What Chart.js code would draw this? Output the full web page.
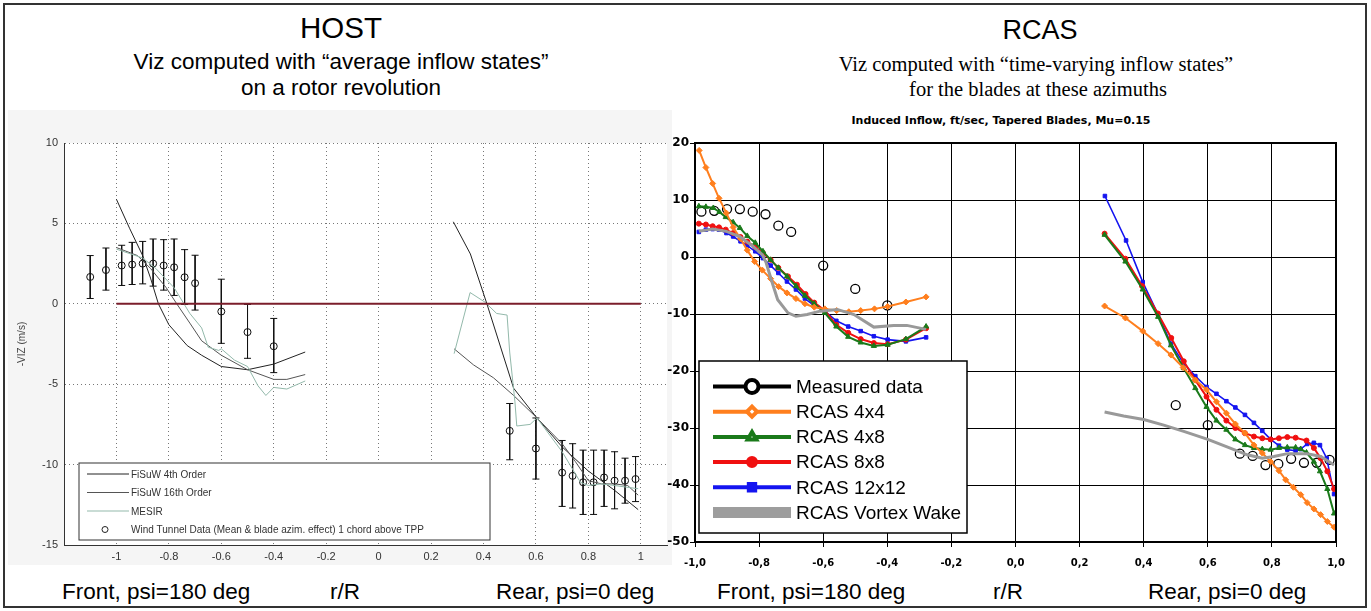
<!DOCTYPE html>
<html>
<head>
<meta charset="utf-8">
<script src="https://cdn.jsdelivr.net/npm/chart.js@4.4.0/dist/chart.umd.min.js"></script>
<style>
body { margin:0; width:1371px; height:611px; background:#fff; position:relative; overflow:hidden; font-family:"Liberation Sans", Arial, sans-serif; color:#000; }
#frame { position:absolute; left:3px; top:3px; width:1364px; height:605px; box-sizing:border-box; border:2px solid #333; }
.c { position:absolute; white-space:nowrap; transform:translateX(-50%); line-height:1; }
.l { position:absolute; white-space:nowrap; line-height:1; font-size:22.5px; top:581px; }
.serif { font-family:"Liberation Serif", "Times New Roman", serif; }
#host { position:absolute; left:8px; top:110px; }
#rcas { position:absolute; left:648px; top:133px; }
</style>
</head>
<body>
<div id="frame"></div>

<div class="c" style="left:341px; top:13px; font-size:29.5px;">HOST</div>
<div class="c" style="left:341px; top:51px; font-size:22.5px;">Viz computed with “average inflow states”</div>
<div class="c" style="left:341px; top:77px; font-size:22.5px;">on a rotor revolution</div>
<div class="c" style="left:378px; top:117px; font-size:19px; color:#444;">Tapered Blades – Mu=0.15 – Longitudinal Distribution</div>

<div class="c" style="left:1040px; top:17px; font-size:27px;">RCAS</div>
<div class="c serif" style="left:1036px; top:54px; font-size:20.5px;">Viz computed with “time-varying inflow states”</div>
<div class="c serif" style="left:1038px; top:79px; font-size:20.5px;">for the blades at these azimuths</div>
<div class="c" style="left:1001px; top:115px; font-size:11px; font-weight:bold; font-family:'DejaVu Sans', Verdana, sans-serif;">Induced Inflow, ft/sec, Tapered Blades, Mu=0.15</div>

<canvas id="host" width="664" height="455"></canvas>
<canvas id="rcas" width="702" height="435"></canvas>

<div class="l" style="left:62px;">Front, psi=180 deg</div>
<div class="l" style="left:330px;">r/R</div>
<div class="l" style="left:496px;">Rear, psi=0 deg</div>
<div class="l" style="left:717px;">Front, psi=180 deg</div>
<div class="l" style="left:993px;">r/R</div>
<div class="l" style="left:1148px;">Rear, psi=0 deg</div>

<script>
// ---------- HOST (left) ----------
var hostXTicks = [-1, -0.8, -0.6, -0.4, -0.2, 0, 0.2, 0.4, 0.6, 0.8, 1];

// wind tunnel data, mean and error bar ends
var hostMeasX = [-1.10, -1.04, -0.98, -0.94, -0.90, -0.86, -0.82, -0.78, -0.74, -0.70, -0.60, -0.50, -0.40,
                 0.50, 0.60, 0.70, 0.74, 0.78, 0.82, 0.86, 0.90, 0.94, 0.98];
var hostMeasY = [1.67, 2.1, 2.38, 2.44, 2.5, 2.5, 2.38, 2.27, 1.65, 1.28, -0.48, -1.76, -2.64,
                 -7.9, -9.0, -10.5, -10.7, -11.1, -11.1, -10.8, -11.0, -11.0, -10.9];
var hostErrHi = [3.0, 3.47, 3.64, 3.82, 3.88, 4.03, 3.99, 4.03, 3.37, 3.02, 1.53, -0.04, -0.91,
                 -6.2, -7.1, -8.5, -8.7, -9.1, -9.1, -9.1, -9.2, -9.6, -9.5];
var hostErrLo = [0.33, 0.85, 1.14, 1.2, 1.24, 1.1, 0.85, 0.52, -0.04, -0.39, -2.46, -3.39, -4.28,
                 -9.7, -10.9, -12.6, -12.7, -13.1, -13.1, -12.6, -12.75, -12.4, -12.3];

var fisuw4Front = [[-1, 6.5], [-0.95, 4.7], [-0.9, 3.0], [-0.87, 1.6], [-0.84, 0], [-0.8, -1.3], [-0.73, -2.6],
                   [-0.675, -3.2], [-0.6, -3.9], [-0.5, -4.1], [-0.4, -3.75], [-0.28, -3.0]];
var fisuw4Rear = [[0.285, 5.1], [0.35, 3.1], [0.413, 0], [0.515, -5.25], [0.604, -7.1], [0.7, -8.9],
                  [0.8, -10.4], [0.9, -11.6], [0.99, -12.8]];
var fisuw16Front = [[-1, 3.5], [-0.92, 3.0], [-0.87, 2.2], [-0.81, 1.0], [-0.77, 0], [-0.72, -1.2], [-0.675, -2.3],
                    [-0.6, -3.2], [-0.5, -4.1], [-0.4, -4.7], [-0.35, -4.7], [-0.28, -4.4]];
var fisuw16Rear = [[0.288, -2.8], [0.362, -3.8], [0.438, -4.6], [0.515, -5.7], [0.604, -7.1], [0.7, -8.7],
                   [0.75, -9.8], [0.8, -11.0], [0.85, -11.2], [0.9, -11.2], [0.95, -11.3], [0.99, -11.9]];
var mesirFront = [[-1, 3.4], [-0.9, 2.85], [-0.85, 2.2], [-0.78, 1.0], [-0.72, -0.6], [-0.675, -1.5], [-0.65, -2.7],
                  [-0.61, -2.9], [-0.6, -2.8], [-0.55, -3.5], [-0.5, -3.9], [-0.46, -5.1], [-0.43, -5.7],
                  [-0.4, -5.2], [-0.35, -5.3], [-0.28, -4.8]];
var mesirRear = [[0.288, -3.1], [0.349, 0.7], [0.406, 0.1], [0.45, -0.6], [0.49, -0.7], [0.5, -3.0], [0.52, -6.1],
                 [0.527, -7.6], [0.578, -7.5], [0.604, -7.1], [0.7, -9.2], [0.77, -11.1], [0.8, -11.3],
                 [0.85, -11.2], [0.9, -11.3], [0.99, -11.5]];

// ---------- RCAS (right) ----------
var rcasMeasX = [-0.98, -0.94, -0.90, -0.86, -0.82, -0.78, -0.74, -0.70, -0.60, -0.50, -0.40,
                 0.50, 0.60, 0.70, 0.74, 0.78, 0.82, 0.86, 0.90, 0.94, 0.98];
var rcasMeasY = [7.95, 8.1, 8.4, 8.4, 7.95, 7.5, 5.5, 4.4, -1.5, -5.6, -8.5,
                 -26.0, -29.5, -34.5, -34.9, -36.5, -36.3, -35.4, -36.1, -36.1, -35.6];

var rcas4x4Front = [[-0.987, 18.7], [-0.966, 15.7], [-0.945, 12.9], [-0.925, 10.3], [-0.902, 7.7], [-0.881, 5.2],
                    [-0.858, 3.2], [-0.837, 1.2], [-0.814, -0.8], [-0.79, -2.3], [-0.764, -3.8], [-0.739, -5.2],
                    [-0.713, -6.3], [-0.685, -7.3], [-0.657, -8.2], [-0.628, -8.8], [-0.595, -9.1], [-0.558, -9.4],
                    [-0.52, -9.6], [-0.483, -9.4], [-0.44, -9.1], [-0.399, -8.7], [-0.342, -7.9], [-0.279, -7.0]];
var rcas4x4Rear = [[0.278, -8.6], [0.343, -10.7], [0.397, -13.0], [0.445, -15.2], [0.485, -17.2], [0.523, -19.4],
                   [0.561, -21.6], [0.596, -23.3], [0.627, -25.4], [0.658, -27.4], [0.686, -29.3], [0.716, -30.9],
                   [0.744, -33.0], [0.77, -34.4], [0.796, -35.9], [0.822, -37.5], [0.843, -39.1], [0.867, -40.4],
                   [0.89, -41.7], [0.91, -43.1], [0.931, -44.2], [0.952, -45.2], [0.973, -46.4], [0.994, -47.4]];
var rcas4x8Front = [[-0.988, 8.9], [-0.966, 8.8], [-0.943, 8.6], [-0.924, 7.9], [-0.904, 7.0], [-0.881, 6.1],
                    [-0.86, 5.1], [-0.837, 3.7], [-0.812, 2.5], [-0.788, 1.0], [-0.764, -0.5], [-0.74, -1.9],
                    [-0.713, -3.4], [-0.685, -5.1], [-0.657, -6.8], [-0.628, -8.2], [-0.595, -9.8], [-0.559, -12.2],
                    [-0.522, -14.0], [-0.483, -15.0], [-0.442, -15.6], [-0.399, -15.4], [-0.342, -14.4], [-0.279, -12.2]];
var rcas4x8Rear = [[0.278, 3.9], [0.343, -0.8], [0.397, -5.7], [0.445, -10.5], [0.485, -15.5], [0.525, -19.5],
                   [0.561, -23.0], [0.596, -26.3], [0.627, -28.7], [0.658, -30.3], [0.686, -32.0], [0.716, -33.0],
                   [0.744, -33.5], [0.77, -33.7], [0.796, -33.8], [0.822, -33.5], [0.848, -33.4], [0.874, -33.4],
                   [0.89, -33.7], [0.908, -34.3], [0.931, -35.9], [0.95, -37.6], [0.973, -40.7], [0.994, -45.0]];
var rcas8x8Front = [[-0.988, 5.85], [-0.966, 5.7], [-0.945, 5.4], [-0.925, 5.2], [-0.904, 4.8], [-0.881, 4.2],
                    [-0.858, 3.5], [-0.837, 2.7], [-0.812, 1.75], [-0.788, 0.7], [-0.764, -0.5], [-0.74, -1.9],
                    [-0.71, -3.4], [-0.682, -4.85], [-0.655, -6.5], [-0.628, -8.0], [-0.595, -9.4], [-0.559, -11.9],
                    [-0.522, -13.3], [-0.483, -14.4], [-0.442, -15.1], [-0.399, -15.3], [-0.342, -14.5], [-0.279, -12.5]];
var rcas8x8Rear = [[0.278, 4.1], [0.343, -0.3], [0.395, -5.1], [0.444, -9.9], [0.486, -14.2], [0.525, -18.3],
                   [0.561, -21.6], [0.596, -24.5], [0.627, -26.8], [0.658, -28.7], [0.686, -30.0], [0.716, -30.9],
                   [0.744, -31.5], [0.77, -31.8], [0.796, -32.0], [0.822, -31.8], [0.848, -31.6], [0.874, -31.7],
                   [0.908, -32.2], [0.931, -33.5], [0.952, -35.3], [0.973, -37.6], [0.994, -40.7]];
var rcas12x12Front = [[-0.988, 4.4], [-0.966, 4.8], [-0.945, 4.9], [-0.925, 4.8], [-0.902, 4.2], [-0.881, 3.6],
                      [-0.858, 2.75], [-0.837, 2.0], [-0.812, 1.0], [-0.788, -0.2], [-0.764, -1.5], [-0.74, -2.8],
                      [-0.713, -4.3], [-0.685, -5.7], [-0.657, -7.3], [-0.628, -8.5], [-0.595, -9.5], [-0.559, -11.2],
                      [-0.522, -12.2], [-0.483, -13.0], [-0.442, -13.9], [-0.399, -14.5], [-0.342, -14.8], [-0.279, -14.1]];
var rcas12x12Rear = [[0.279, 10.7], [0.345, 2.9], [0.397, -4.4], [0.445, -10.1], [0.485, -15.2], [0.525, -18.7],
                     [0.561, -20.9], [0.596, -22.8], [0.627, -24.0], [0.658, -25.3], [0.686, -26.4], [0.716, -27.7],
                     [0.744, -29.1], [0.77, -30.5], [0.796, -32.0], [0.822, -33.1], [0.848, -33.8], [0.874, -34.0],
                     [0.89, -33.7], [0.91, -32.8], [0.931, -32.6], [0.95, -33.0], [0.971, -35.3], [0.994, -41.6]];
var vortexFront = [[-0.988, 4.5], [-0.945, 4.9], [-0.902, 4.5], [-0.86, 3.6], [-0.82, 1.9], [-0.79, 0.4],
                   [-0.778, -1.0], [-0.762, -4.0], [-0.742, -7.5], [-0.71, -9.8], [-0.685, -10.4], [-0.65, -10.1],
                   [-0.61, -9.5], [-0.556, -9.2], [-0.504, -10.1], [-0.442, -12.3], [-0.38, -12.0], [-0.339, -12.0],
                   [-0.279, -12.7]];
var vortexRear = [[0.278, -27.2], [0.3375, -27.9], [0.4, -28.5], [0.4625, -29.5], [0.525, -30.6], [0.6, -32.0],
                  [0.66, -33.3], [0.723, -34.7], [0.77, -35.3], [0.806, -35.0], [0.848, -34.5], [0.91, -34.5],
                  [0.952, -35.0], [0.994, -36.5]];

function pts(arr) {
    return arr.map(function(p) { return {x: p[0], y: p[1]}; });
}
// front and rear halves in one dataset, broken by a null point
function joined(a, b) {
    return pts(a).concat([{x: 0, y: null}], pts(b));
}
function xy(xs, ys) {
    return xs.map(function(x, i) { return {x: x, y: ys[i]}; });
}

var errData = [];
hostMeasX.forEach(function(x, i) {
    errData.push({x: x, y: hostErrHi[i]}, {x: x, y: hostErrLo[i]}, {x: x, y: null});
});

// grey figure background with white axes area
var canvasBg = {
    id: 'canvasBg',
    beforeDraw: function(chart, args, opts) {
        if (!opts.outer) return;
        var ctx = chart.ctx, a = chart.chartArea;
        ctx.save();
        ctx.fillStyle = opts.outer;
        ctx.fillRect(0, 0, chart.width, chart.height);
        ctx.fillStyle = opts.inner;
        ctx.fillRect(a.left, a.top, a.right - a.left, a.bottom - a.top);
        ctx.restore();
    }
};

var frameBox = {
    id: 'frameBox',
    afterDraw: function(chart, args, opts) {
        if (!opts.width) return;
        var ctx = chart.ctx, a = chart.chartArea;
        ctx.save();
        ctx.lineWidth = opts.width;
        ctx.strokeStyle = opts.color;
        ctx.strokeRect(a.left, a.top, a.right - a.left, a.bottom - a.top);
        ctx.restore();
    }
};

// legend box drawn inside the plot area
var boxLegend = {
    id: 'boxLegend',
    afterDraw: function(chart, args, o) {
        if (!o.items) return;
        var ctx = chart.ctx, a = chart.chartArea;
        var x = a.left + o.left, y = a.bottom - o.bottom - o.height;
        ctx.save();
        ctx.fillStyle = o.fill;
        ctx.fillRect(x, y, o.width, o.height);
        ctx.lineWidth = o.borderWidth;
        ctx.strokeStyle = o.borderColor;
        ctx.strokeRect(x, y, o.width, o.height);
        ctx.font = o.font;
        ctx.textBaseline = 'middle';
        o.items.forEach(function(it, i) {
            var cy = y + o.firstRow + i * o.rowHeight;
            if (it.lineWidth) {
                ctx.beginPath();
                ctx.moveTo(x + o.lineFrom, cy);
                ctx.lineTo(x + o.lineTo, cy);
                ctx.lineWidth = it.lineWidth;
                ctx.strokeStyle = it.color;
                ctx.stroke();
            }
            if (it.marker) {
                ctx.fillStyle = it.markerFill;
                ctx.strokeStyle = it.color;
                Chart.helpers.drawPoint(ctx, {pointStyle: it.marker, radius: it.radius, borderWidth: it.markerBorder, rotation: 0},
                    x + o.markerX, cy);
            }
            ctx.fillStyle = o.textColor;
            ctx.fillText(it.text, x + o.textX, cy + 1);
        });
        ctx.restore();
    }
};

var hostTickFont = {family: 'Liberation Sans', size: 11};

new Chart(document.getElementById('host'), {
    type: 'scatter',
    plugins: [canvasBg, boxLegend],
    data: {
        datasets: [{
            label: 'zero',
            data: [{x: -1, y: 0}, {x: 1, y: 0}],
            showLine: true,
            borderColor: '#7b1e2b',
            borderWidth: 2,
            pointRadius: 0
        }, {
            label: 'MESIR',
            data: joined(mesirFront, mesirRear),
            showLine: true,
            borderColor: '#93b9ab',
            borderWidth: 1,
            pointRadius: 0
        }, {
            label: 'FiSuW 16th Order',
            data: joined(fisuw16Front, fisuw16Rear),
            showLine: true,
            borderColor: '#555',
            borderWidth: 1,
            pointRadius: 0
        }, {
            label: 'FiSuW 4th Order',
            data: joined(fisuw4Front, fisuw4Rear),
            showLine: true,
            borderColor: '#222',
            borderWidth: 1,
            pointRadius: 0
        }, {
            label: 'error bars',
            data: errData,
            showLine: true,
            borderColor: '#111',
            borderWidth: 1,
            pointStyle: 'line',
            pointRadius: 3.5,
            pointBorderColor: '#111',
            pointBorderWidth: 1
        }, {
            label: 'Wind Tunnel Data',
            data: xy(hostMeasX, hostMeasY),
            pointStyle: 'circle',
            pointRadius: 3.5,
            pointBorderColor: '#111',
            pointBackgroundColor: 'rgba(255,255,255,0)',
            pointBorderWidth: 1
        }]
    },
    options: {
        responsive: false,
        animation: false,
        events: [],
        layout: {padding: {top: 33, right: 5, left: 0, bottom: 0}},
        plugins: {
            legend: {display: false},
            tooltip: {enabled: false},
            canvasBg: {outer: '#f5f5f5', inner: '#ffffff'},
            boxLegend: {
                left: 15, bottom: 5, width: 411, height: 77,
                fill: '#ffffff', borderColor: '#333', borderWidth: 1,
                font: '10px "Liberation Sans"', textColor: '#333',
                firstRow: 11, rowHeight: 18.5,
                lineFrom: 8, lineTo: 50, markerX: 26, textX: 52,
                items: [
                    {text: 'FiSuW 4th Order', color: '#222', lineWidth: 1},
                    {text: 'FiSuW 16th Order', color: '#555', lineWidth: 1},
                    {text: 'MESIR', color: '#93b9ab', lineWidth: 1},
                    {text: 'Wind Tunnel Data (Mean & blade azim. effect) 1 chord above TPP', color: '#222',
                     marker: 'circle', radius: 3, markerBorder: 1, markerFill: '#fff'}
                ]
            }
        },
        scales: {
            x: {
                type: 'linear',
                min: -1.2,
                max: 1.1,
                afterBuildTicks: function(ax) {
                    ax.ticks = hostXTicks.map(function(v) { return {value: v}; });
                },
                afterFit: function(s) { s.height = 20; },
                ticks: {
                    callback: function(v) { return String(Math.round(v * 10) / 10); },
                    font: hostTickFont, color: '#333', padding: 5, maxRotation: 0, autoSkip: false
                },
                grid: {color: '#777', lineWidth: 1, drawTicks: false},
                border: {color: '#333', width: 1, dash: [1, 3]}
            },
            y: {
                type: 'linear',
                min: -15,
                max: 10,
                afterFit: function(s) { s.width = 56; },
                ticks: {stepSize: 5, font: hostTickFont, color: '#333', padding: 6},
                grid: {color: '#777', lineWidth: 1, drawTicks: false},
                border: {color: '#333', width: 1, dash: [1, 3]},
                title: {display: true, text: '-VIZ (m/s)', color: '#444', font: {family: 'Liberation Sans', size: 10}, padding: {top: 8, bottom: 4}}
            }
        }
    }
});

var rcasTickFontX = {family: 'DejaVu Sans', size: 10, weight: 'bold'};
var rcasTickFontY = {family: 'DejaVu Sans', size: 12, weight: 'bold'};

new Chart(document.getElementById('rcas'), {
    type: 'scatter',
    plugins: [frameBox, boxLegend],
    data: {
        datasets: [{
            label: 'RCAS Vortex Wake',
            data: joined(vortexFront, vortexRear),
            showLine: true,
            borderColor: '#999999',
            borderWidth: 3,
            pointRadius: 0
        }, {
            label: 'RCAS 4x4',
            data: joined(rcas4x4Front, rcas4x4Rear),
            showLine: true,
            borderColor: '#ff7f1e',
            borderWidth: 2,
            pointStyle: 'rectRot',
            pointRadius: 3,
            pointBackgroundColor: '#ff7f1e',
            pointBorderColor: '#ff7f1e',
            pointBorderWidth: 1
        }, {
            label: 'RCAS 4x8',
            data: joined(rcas4x8Front, rcas4x8Rear),
            showLine: true,
            borderColor: '#1a7a1a',
            borderWidth: 2,
            pointStyle: 'triangle',
            pointRadius: 3,
            pointBackgroundColor: '#1a7a1a',
            pointBorderColor: '#1a7a1a',
            pointBorderWidth: 1
        }, {
            label: 'RCAS 8x8',
            data: joined(rcas8x8Front, rcas8x8Rear),
            showLine: true,
            borderColor: '#f01010',
            borderWidth: 2,
            pointStyle: 'circle',
            pointRadius: 2.5,
            pointBackgroundColor: '#f01010',
            pointBorderColor: '#f01010',
            pointBorderWidth: 1
        }, {
            label: 'RCAS 12x12',
            data: joined(rcas12x12Front, rcas12x12Rear),
            showLine: true,
            borderColor: '#1414f0',
            borderWidth: 1.6,
            pointStyle: 'rect',
            pointRadius: 2.5,
            pointBackgroundColor: '#1414f0',
            pointBorderColor: '#1414f0',
            pointBorderWidth: 1
        }, {
            label: 'Measured data',
            data: xy(rcasMeasX, rcasMeasY),
            pointStyle: 'circle',
            pointRadius: 4.5,
            pointBackgroundColor: 'rgba(255,255,255,0)',
            pointBorderColor: '#000',
            pointBorderWidth: 1.3
        }]
    },
    options: {
        responsive: false,
        animation: false,
        events: [],
        layout: {padding: {top: 10, right: 14, left: 0, bottom: 0}},
        plugins: {
            legend: {display: false},
            tooltip: {enabled: false},
            frameBox: {width: 2, color: '#000'},
            boxLegend: {
                left: 4, bottom: 9, width: 268, height: 172,
                fill: '#ffffff', borderColor: '#000', borderWidth: 1.5,
                font: '19px "Liberation Sans"', textColor: '#000',
                firstRow: 25.5, rowHeight: 25.2,
                lineFrom: 14, lineTo: 92, markerX: 53, textX: 97,
                items: [
                    {text: 'Measured data', color: '#000', lineWidth: 4, marker: 'circle', radius: 6.5, markerBorder: 2, markerFill: '#fff'},
                    {text: 'RCAS 4x4', color: '#ff7f1e', lineWidth: 4, marker: 'rectRot', radius: 5, markerBorder: 1.5, markerFill: '#fff'},
                    {text: 'RCAS 4x8', color: '#1a7a1a', lineWidth: 4, marker: 'triangle', radius: 5, markerBorder: 1.5, markerFill: '#fff'},
                    {text: 'RCAS 8x8', color: '#f01010', lineWidth: 4, marker: 'circle', radius: 4, markerBorder: 1, markerFill: '#f01010'},
                    {text: 'RCAS 12x12', color: '#1414f0', lineWidth: 4, marker: 'rect', radius: 4.5, markerBorder: 1, markerFill: '#1414f0'},
                    {text: 'RCAS Vortex Wake', color: '#9d9d9d', lineWidth: 11}
                ]
            }
        },
        scales: {
            x: {
                type: 'linear',
                min: -1,
                max: 1,
                afterFit: function(s) {
                    s.height = 26;
                    s.paddingLeft = 0;
                    s.paddingRight = 0;
                },
                ticks: {
                    stepSize: 0.2,
                    callback: function(v) { return (Math.round(v * 10) / 10).toFixed(1).replace('.', ','); },
                    font: rcasTickFontX, color: '#000', padding: 10, maxRotation: 0, autoSkip: false
                },
                grid: {color: '#000', lineWidth: 1, tickLength: 5, tickColor: '#000'},
                border: {color: '#000', width: 2}
            },
            y: {
                type: 'linear',
                min: -50,
                max: 20,
                afterFit: function(s) { s.width = 47; },
                ticks: {stepSize: 10, font: rcasTickFontY, color: '#000', padding: 1},
                grid: {color: '#000', lineWidth: 1, tickLength: 5, tickColor: '#000'},
                border: {color: '#000', width: 2}
            }
        }
    }
});
</script>
</body>
</html>
